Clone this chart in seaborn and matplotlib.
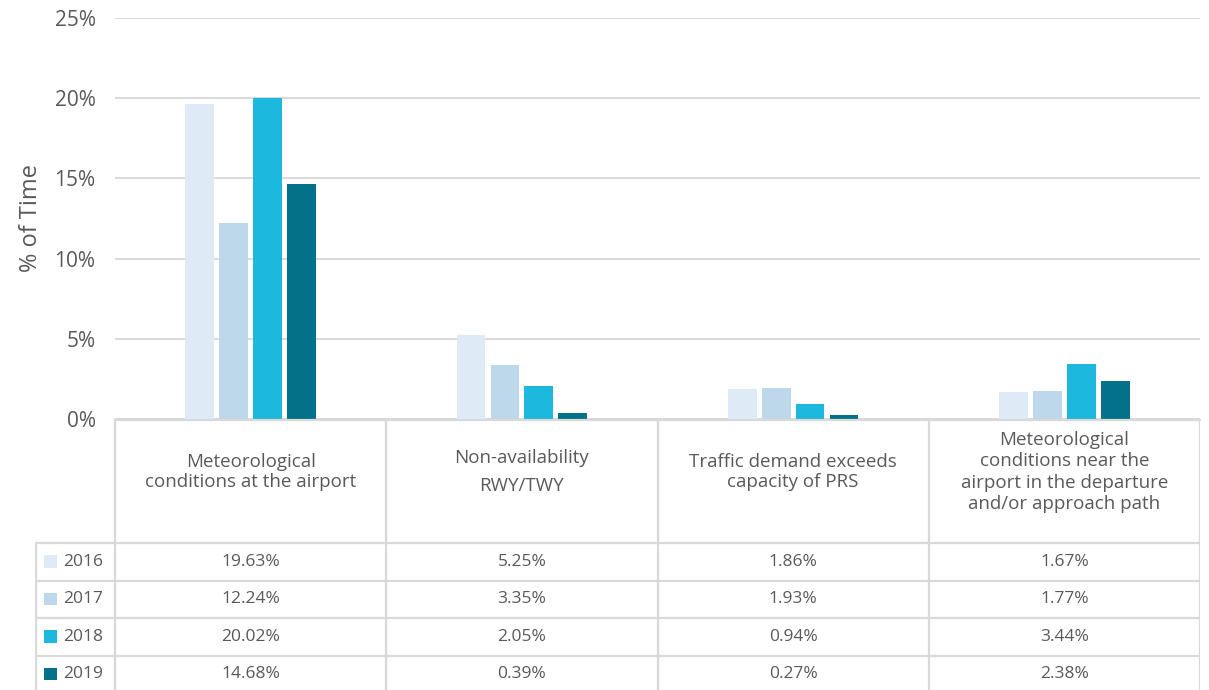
import matplotlib
matplotlib.use("Agg")
import matplotlib.pyplot as plt
from matplotlib.patches import Rectangle
import seaborn as sns
import pandas as pd

# Data
categories = [
    "Meteorological conditions at the airport",
    "Non-availability RWY/TWY",
    "Traffic demand exceeds capacity of PRS",
    "Meteorological conditions near the airport in the departure and/or approach path",
]
header_labels = [
    "Meteorological\nconditions at the airport",
    "Non-availability\nRWY/TWY",
    "Traffic demand exceeds\ncapacity of PRS",
    "Meteorological\nconditions near the\nairport in the departure\nand/or approach path",
]
years = ["2016", "2017", "2018", "2019"]
values_2016 = [19.63, 5.25, 1.86, 1.67]
values_2017 = [12.24, 3.35, 1.93, 1.77]
values_2018 = [20.02, 2.05, 0.94, 3.44]
values_2019 = [14.68, 0.39, 0.27, 2.38]
y_ticks = [0, 5, 10, 15, 20, 25]

series = dict(zip(years, [values_2016, values_2017, values_2018, values_2019]))
colors = ["#deebf7", "#bdd7eb", "#1cb8dd", "#027189"]
palette = dict(zip(years, colors))

rows = [
    {"category": c, "year": y, "value": v}
    for y in years
    for c, v in zip(categories, series[y])
]
df = pd.DataFrame(rows)

sns.set_theme(style="white")
plt.rcParams["font.family"] = ["Open Sans", "DejaVu Sans"]
text_color = "#595959"
line_color = "#d9d9d9"

W, H = 1209, 690
fig = plt.figure(figsize=(W / 100, H / 100), dpi=100)

# Bar chart area
left, right, top, bottom = 115, 1200, 18, 419
ax = fig.add_axes([left / W, 1 - bottom / H, (right - left) / W, (bottom - top) / H])
sns.barplot(
    data=df, x="category", y="value", hue="year", order=categories,
    hue_order=years, palette=palette, width=0.5, gap=0.15,
    saturation=1, legend=False, ax=ax, linewidth=0,
)
ax.set_ylim(0, 25)
ax.set_xlim(-0.5, len(categories) - 0.5)
ax.set_yticks(y_ticks)
ax.set_yticklabels([f"{t}%" for t in y_ticks], fontsize=15, color=text_color)
ax.tick_params(axis="y", length=0, pad=14)
ax.set_xticks([])
ax.set_xlabel("")
ax.set_ylabel("% of Time", fontsize=17, color=text_color, labelpad=8)
ax.yaxis.grid(True, color=line_color, linewidth=1.4)
ax.set_axisbelow(True)
for s in ax.spines.values():
    s.set_visible(False)

# Data table below the bars
tx0, tx1 = 35, 1200
tax = fig.add_axes([tx0 / W, 0, (tx1 - tx0) / W, (H - bottom) / H])
tax.set_xlim(tx0, tx1)
tax.set_ylim(H, bottom)
tax.axis("off")

col_w = (right - left) / len(categories)
col_edges = [left + i * col_w for i in range(len(categories) + 1)]
header_bottom = 543
row_h = 37.5
row_edges = [header_bottom + i * row_h for i in range(len(years) + 1)]
lw = 1.6

# Grid lines
tax.plot([left, right], [bottom + 0.8, bottom + 0.8], color=line_color, lw=lw, clip_on=False)
for x in col_edges:
    tax.plot([x, x], [bottom, H], color=line_color, lw=lw)
tax.plot([tx0 + 1, tx0 + 1], [header_bottom, H], color=line_color, lw=lw)
for y in row_edges[:-1]:
    tax.plot([tx0, right], [y, y], color=line_color, lw=lw)

# Header texts
header_spacing = [1.15, 1.65, 1.15, 1.25]
for i, lab in enumerate(header_labels):
    cx = (col_edges[i] + col_edges[i + 1]) / 2
    tax.text(cx, 472, lab, ha="center", va="center", fontsize=13.5,
             color=text_color, linespacing=header_spacing[i])

# Rows: legend swatch, year, values
for r, yr in enumerate(years):
    cy = (row_edges[r] + row_edges[r + 1]) / 2
    tax.add_patch(Rectangle((44, cy - 6.5), 12.5, 12.5, color=palette[yr], lw=0))
    tax.text(63, cy, yr, ha="left", va="center", fontsize=12.5, color=text_color)
    for i, v in enumerate(series[yr]):
        cx = (col_edges[i] + col_edges[i + 1]) / 2
        tax.text(cx, cy, f"{v:.2f}%", ha="center", va="center",
                 fontsize=12.5, color=text_color)

fig.savefig("out.png", dpi=100)
